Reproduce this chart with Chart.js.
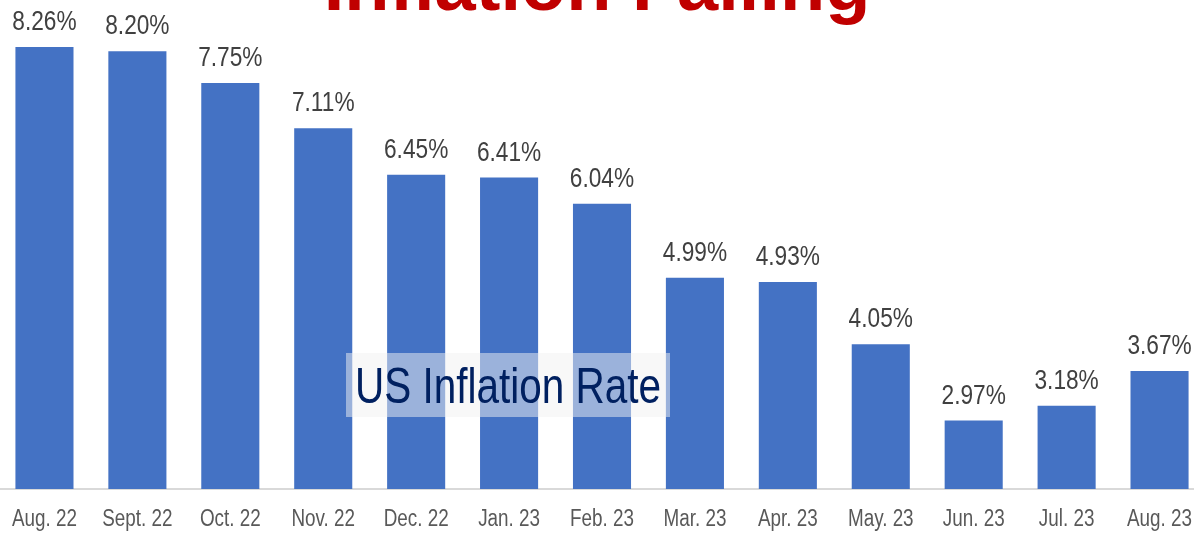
<!DOCTYPE html>
<html>
<head>
<meta charset="utf-8">
<script src="https://cdn.jsdelivr.net/npm/chart.js@4"></script>
<style>
  html, body { margin: 0; padding: 0; background: #fff; overflow: hidden; }
  #wrap { position: absolute; left: -2px; top: 0; width: 1208px; height: 535px; }
</style>
</head>
<body>
<div id="wrap"><canvas id="myChart"></canvas></div>
<script>
const months = ['Aug. 22', 'Sept. 22', 'Oct. 22', 'Nov. 22', 'Dec. 22', 'Jan. 23', 'Feb. 23',
  'Mar. 23', 'Apr. 23', 'May. 23', 'Jun. 23', 'Jul. 23', 'Aug. 23']
const inflationRate = [8.26, 8.20, 7.75, 7.11, 6.45, 6.41, 6.04, 4.99, 4.93, 4.05, 2.97, 3.18, 3.67]

const sans = '"Liberation Sans", Arial, sans-serif'

// no narrow font installed, so squeeze Liberation Sans sideways
function narrowText(ctx, text, x, y, sx) {
  ctx.save()
  ctx.translate(x, y)
  ctx.scale(sx, 1)
  ctx.fillText(text, 0, 0)
  ctx.restore()
}

// value labels, month labels, the title and the caption box
const extras = {
  id: 'extras',
  afterDatasetsDraw(chart) {
    const ctx = chart.ctx
    const xScale = chart.scales.x
    ctx.save()
    ctx.textAlign = 'center'
    ctx.textBaseline = 'alphabetic'

    ctx.font = '27px ' + sans
    ctx.fillStyle = '#404040'
    chart.getDatasetMeta(0).data.forEach((bar, i) => {
      narrowText(ctx, inflationRate[i].toFixed(2) + '%', bar.x, bar.y - 17, 0.84)
    })

    ctx.font = '23px ' + sans
    ctx.fillStyle = '#595959'
    months.forEach((m, i) => {
      narrowText(ctx, m, xScale.getPixelForValue(i), 526, 0.82)
    })

    // caption box (page x + 2 = canvas x)
    ctx.fillStyle = 'rgba(242,242,242,0.5)'
    ctx.fillRect(348, 353, 324, 64)
    ctx.font = '50px ' + sans
    ctx.fillStyle = '#002060'
    narrowText(ctx, 'US Inflation Rate', 510, 403, 0.81)

    ctx.font = 'bold 74px ' + sans
    ctx.fillStyle = '#C00000'
    ctx.fillText('Inflation Falling', 599, 10)
    ctx.restore()
  },
}

let ctxInflation = document.getElementById('myChart').getContext('2d')

let chart1 = new Chart(ctxInflation, {
  type: 'bar',
  data: {
    labels: months,
    datasets: [
      {
        data: inflationRate,
        backgroundColor: '#4472C4',
        categoryPercentage: 1,
        barPercentage: 0.625,
      },
    ],
  },
  options: {
    responsive: true,
    maintainAspectRatio: false,
    animation: false,
    layout: {
      padding: { top: 30, left: 0, right: 0, bottom: 0 },
    },
    plugins: {
      legend: { display: false },
      title: { display: false },
      tooltip: { enabled: false },
    },
    scales: {
      x: {
        grid: { display: false, drawTicks: false },
        border: { display: true, color: '#D9D9D9', width: 2 },
        ticks: { display: false },
        afterFit(scale) {
          scale.height = 46
        },
      },
      y: {
        display: false,
        min: 2,
        max: 8.5,
      },
    },
  },
  plugins: [extras],
})
</script>
</body>
</html>
